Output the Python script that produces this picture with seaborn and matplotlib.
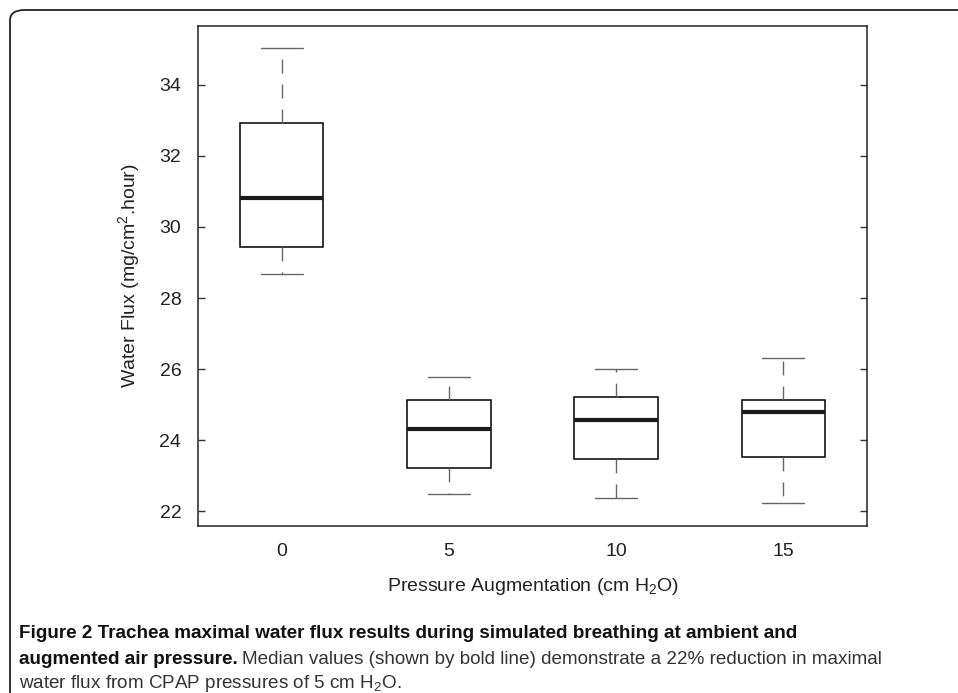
import numpy as np
import pandas as pd
import matplotlib
matplotlib.use("Agg")
import matplotlib.pyplot as plt
from matplotlib.patches import FancyBboxPatch
import seaborn as sns

# five-number summaries (low whisker, Q1, median, Q3, high whisker)
pressures = ["0", "5", "10", "15"]
flux_0 = [28.68, 29.44, 30.83, 32.92, 35.05]
flux_5 = [22.48, 23.22, 24.30, 25.12, 25.77]
flux_10 = [22.36, 23.48, 24.56, 25.20, 25.99]
flux_15 = [22.22, 23.52, 24.78, 25.12, 26.30]

df = pd.DataFrame({
    "pressure": np.repeat(pressures, 5),
    "flux": flux_0 + flux_5 + flux_10 + flux_15,
})

sns.set_style("white")
plt.rcParams["font.family"] = ["Liberation Sans", "DejaVu Sans"]
plt.rcParams["mathtext.fontset"] = "custom"
plt.rcParams["mathtext.rm"] = "Liberation Sans"

fig = plt.figure(figsize=(9.58, 6.93), dpi=100)
ax = fig.add_axes([0.2067, 0.241, 0.6983, 0.7215])

sns.boxplot(data=df, x="pressure", y="flux", order=pressures, ax=ax,
            width=0.5, color="white", linecolor="black", linewidth=1.1,
            whis=(0, 100), showfliers=False,
            boxprops=dict(edgecolor="black", linewidth=1.1),
            whiskerprops=dict(color="#666666", linewidth=1.0, linestyle=(0, (10, 8))),
            capprops=dict(color="#666666", linewidth=1.0),
            medianprops=dict(color="#1a1a1a", linewidth=3.0))

ax.set_xlim(-0.5, 3.5)
ax.set_ylim(21.58, 35.66)
ax.set_yticks([22, 24, 26, 28, 30, 32, 34])
ax.tick_params(axis="y", direction="in", length=5, width=1, color="#333333",
               left=True, right=True, labelsize=14, labelcolor="#222222", pad=12)
ax.tick_params(axis="x", length=0, labelsize=14, labelcolor="#222222", pad=12)
for s in ax.spines.values():
    s.set_visible(True)
    s.set_color("#222222")
    s.set_linewidth(1.1)

ax.set_xlabel("Pressure Augmentation (cm H$_2$O)", fontsize=14, color="#222222", labelpad=12)
ax.set_ylabel("Water Flux (mg/cm$^2$.hour)", fontsize=14, color="#222222", labelpad=12)

# rounded frame around the figure panel
frame = FancyBboxPatch((10 / 958, -0.1), 1.2, 1.1 - 10 / 693,
                       boxstyle="round,pad=0,rounding_size=0.015",
                       transform=fig.transFigure, fill=False,
                       edgecolor="#222222", linewidth=1.3, clip_on=False)
fig.patches.append(frame)

# caption
cap_font = ["Liberation Sans", "DejaVu Sans"]
fs = 13.6
x0 = 19 / 958
fig.text(x0, 1 - 634 / 693, "Figure 2 Trachea maximal water flux results during simulated breathing at ambient and",
         fontsize=fs, fontweight="bold", family=cap_font, va="center", color="#111111")
b = fig.text(x0, 1 - 660 / 693, "augmented air pressure.", fontsize=fs, fontweight="bold",
             family=cap_font, va="center", color="#111111")
fig.canvas.draw()
ext = b.get_window_extent()
fig.text((ext.x1 + 4) / 958, 1 - 660 / 693,
         "Median values (shown by bold line) demonstrate a 22% reduction in maximal",
         fontsize=fs, family=cap_font, va="center", color="#333333")
fig.text(x0, 1 - 684 / 693, "water flux from CPAP pressures of 5 cm H$_2$O.",
         fontsize=fs, family=cap_font, va="center", color="#333333")

fig.savefig("out.png", dpi=100)
